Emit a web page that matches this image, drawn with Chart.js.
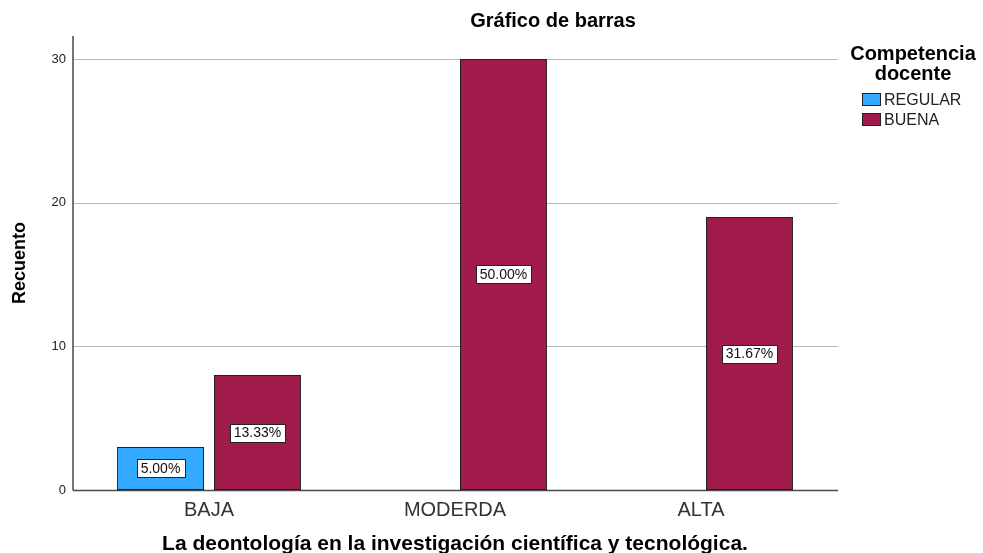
<!DOCTYPE html>
<html>
<head>
<meta charset="utf-8">
<script src="https://cdn.jsdelivr.net/npm/chart.js@4/dist/chart.umd.min.js"></script>
<style>
  html, body { margin: 0; padding: 0; background: #fff; }
  #wrap { width: 983px; height: 553px; position: relative; }
</style>
</head>
<body>
<div id="wrap"><canvas id="barChart"></canvas></div>
<script>
// data
const categories = ['BAJA', 'MODERDA', 'ALTA'];
const regularCounts = [3, null, null];
const buenaCounts = [8, 30, 19];
const yTicks = [0, 10, 20, 30];

const FONT = 'Arial, "Liberation Sans", sans-serif';
Chart.defaults.font.family = FONT;

const total = [...regularCounts, ...buenaCounts].reduce((s, v) => s + (v || 0), 0);

// gridlines + axis lines, a little wider than the category band like SPSS
const axisPlugin = {
    id: 'axisLines',
    beforeDatasetsDraw(chart) {
        const ctx = chart.ctx;
        const y = chart.scales.y;
        const area = chart.chartArea;
        const left = area.left - 13, right = area.right + 14;
        ctx.save();
        ctx.strokeStyle = '#b9b9b9';
        ctx.lineWidth = 1;
        yTicks.forEach(t => {
            if (t === 0) return;
            const py = Math.round(y.getPixelForValue(t)) + 0.5;
            ctx.beginPath();
            ctx.moveTo(left, py);
            ctx.lineTo(right, py);
            ctx.stroke();
        });
        ctx.strokeStyle = '#4a4a4a';
        ctx.lineWidth = 1.5;
        const base = Math.round(y.getPixelForValue(0)) + 0.5;
        ctx.beginPath();
        ctx.moveTo(left, base);
        ctx.lineTo(right, base);
        ctx.moveTo(left, area.top);
        ctx.lineTo(left, base);
        ctx.stroke();
        ctx.restore();
    },
    afterDatasetsDraw(chart) {
        // percentage boxes in the middle of each bar
        const ctx = chart.ctx;
        ctx.save();
        ctx.font = '14px ' + FONT;
        ctx.textAlign = 'center';
        ctx.textBaseline = 'middle';
        chart.data.datasets.forEach((ds, i) => {
            const meta = chart.getDatasetMeta(i);
            meta.data.forEach((bar, j) => {
                const v = ds.data[j];
                if (v == null) return;
                const txt = (v / total * 100).toFixed(2) + '%';
                const cx = bar.x;
                const cy = (bar.y + bar.base) / 2;
                const w = ctx.measureText(txt).width + 8;
                const h = 18;
                ctx.fillStyle = '#fff';
                ctx.fillRect(Math.round(cx - w / 2) + 0.5, Math.round(cy - h / 2) + 0.5, Math.round(w), h);
                ctx.strokeStyle = '#222';
                ctx.lineWidth = 1;
                ctx.strokeRect(Math.round(cx - w / 2) + 0.5, Math.round(cy - h / 2) + 0.5, Math.round(w), h);
                ctx.fillStyle = '#111';
                ctx.fillText(txt, cx, cy + 1);
            });
        });
        ctx.restore();
    },
    afterDraw(chart) {
        const ctx = chart.ctx;
        ctx.save();
        // chart title
        ctx.fillStyle = '#000';
        ctx.textAlign = 'center';
        ctx.textBaseline = 'middle';
        ctx.font = 'bold 20px ' + FONT;
        ctx.fillText('Gráfico de barras', 553, 21);
        // legend
        ctx.fillText('Competencia', 913, 54);
        ctx.fillText('docente', 913, 74);
        ctx.textAlign = 'left';
        ctx.font = '16px ' + FONT;
        chart.data.datasets.forEach((ds, i) => {
            const ly = 100 + i * 20;
            ctx.fillStyle = ds.backgroundColor;
            ctx.fillRect(862.5, ly - 6.5, 18, 12);
            ctx.strokeStyle = '#222';
            ctx.lineWidth = 1;
            ctx.strokeRect(862.5, ly - 6.5, 18, 12);
            ctx.fillStyle = '#222';
            ctx.fillText(ds.label, 884, ly + 1);
        });
        ctx.restore();
    }
};

const ctx = document.getElementById('barChart').getContext('2d');
new Chart(ctx, {
    type: 'bar',
    data: {
        labels: categories,
        datasets: [{
            label: 'REGULAR',
            data: regularCounts,
            backgroundColor: '#33aaff',
            borderColor: '#222',
            borderWidth: 1,
            borderSkipped: false
        }, {
            label: 'BUENA',
            data: buenaCounts,
            backgroundColor: '#a01a4c',
            borderColor: '#222',
            borderWidth: 1,
            borderSkipped: false
        }]
    },
    options: {
        responsive: true,
        maintainAspectRatio: false,
        animation: false,
        categoryPercentage: 0.789,
        barPercentage: 0.897,
        layout: {
            padding: { top: 36, right: 159, left: 0, bottom: 0 }
        },
        plugins: {
            legend: { display: false },
            title: { display: false },
            tooltip: { enabled: false }
        },
        scales: {
            y: {
                min: 0,
                max: 31.6,
                afterBuildTicks: scale => {
                    scale.ticks = yTicks.map(v => ({ value: v }));
                },
                afterFit: scale => { scale.width = 86; },
                grid: { display: false, drawTicks: false },
                border: { display: false },
                ticks: {
                    padding: 20,
                    color: '#222',
                    font: { size: 13 }
                },
                title: {
                    display: true,
                    text: 'Recuento',
                    color: '#000',
                    font: { size: 18, weight: 'bold' },
                    padding: { top: 9, bottom: 0 }
                }
            },
            x: {
                afterFit: scale => { scale.height = 63; },
                grid: { display: false, drawTicks: false },
                border: { display: false },
                ticks: {
                    padding: 8,
                    color: '#333',
                    font: { size: 20 }
                },
                title: {
                    display: true,
                    text: 'La deontología en la investigación científica y tecnológica.',
                    color: '#000',
                    font: { size: 21, weight: 'bold', lineHeight: 1 },
                    padding: { top: 0, bottom: -2 }
                }
            }
        }
    },
    plugins: [axisPlugin]
});
</script>
</body>
</html>
